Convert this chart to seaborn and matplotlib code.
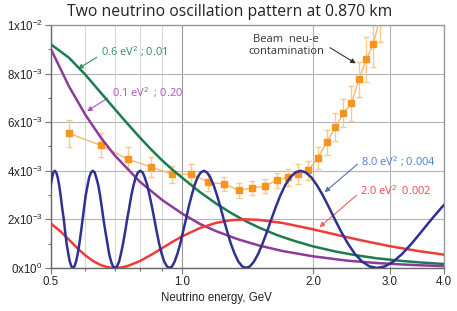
import matplotlib
matplotlib.use("Agg")
import numpy as np
import matplotlib.pyplot as plt
import seaborn as sns
from matplotlib.ticker import FixedLocator, NullFormatter

# oscillation curves (energy in GeV, probability in units of 1e-3)
blue_e = [0.495, 0.499, 0.503, 0.506, 0.510, 0.514, 0.518, 0.522, 0.526, 0.530,
          0.535, 0.539, 0.543, 0.548, 0.552, 0.557, 0.561, 0.566, 0.571, 0.576,
          0.581, 0.586, 0.591, 0.596, 0.601, 0.607, 0.612, 0.618, 0.624, 0.630,
          0.635, 0.642, 0.648, 0.654, 0.660, 0.667, 0.674, 0.680, 0.687, 0.694,
          0.702, 0.709, 0.717, 0.724, 0.732, 0.740, 0.748, 0.757, 0.765, 0.774,
          0.783, 0.792, 0.802, 0.812, 0.821, 0.832, 0.842, 0.853, 0.864, 0.875,
          0.886, 0.898, 0.910, 0.923, 0.936, 0.949, 0.962, 0.976, 0.991, 1.005,
          1.021, 1.036, 1.053, 1.069, 1.086, 1.104, 1.123, 1.142, 1.161, 1.182,
          1.203, 1.225, 1.247, 1.271, 1.295, 1.321, 1.347, 1.375, 1.403, 1.433,
          1.464, 1.497, 1.531, 1.567, 1.604, 1.643, 1.684, 1.727, 1.773, 1.821,
          1.871, 1.925, 1.981, 2.041, 2.105, 2.173, 2.245, 2.323, 2.406, 2.495,
          2.591, 2.694, 2.807, 2.929, 3.062, 3.208, 3.368, 3.545, 3.742, 3.962, 4.210]
blue_p = [3.000, 3.414, 3.732, 3.932, 4.000, 3.932, 3.732, 3.414, 3.000, 2.518,
          2.000, 1.482, 1.000, 0.586, 0.268, 0.068, 0.000, 0.068, 0.268, 0.586,
          1.000, 1.482, 2.000, 2.518, 3.000, 3.414, 3.732, 3.932, 4.000, 3.932,
          3.732, 3.414, 3.000, 2.518, 2.000, 1.482, 1.000, 0.586, 0.268, 0.068,
          0.000, 0.068, 0.268, 0.586, 1.000, 1.482, 2.000, 2.518, 3.000, 3.414,
          3.732, 3.932, 4.000, 3.932, 3.732, 3.414, 3.000, 2.518, 2.000, 1.482,
          1.000, 0.586, 0.268, 0.068, 0.000, 0.068, 0.268, 0.586, 1.000, 1.482,
          2.000, 2.518, 3.000, 3.414, 3.732, 3.932, 4.000, 3.932, 3.732, 3.414,
          3.000, 2.518, 2.000, 1.482, 1.000, 0.586, 0.268, 0.068, 0.000, 0.068,
          0.268, 0.586, 1.000, 1.482, 2.000, 2.518, 3.000, 3.414, 3.732, 3.932,
          4.000, 3.932, 3.732, 3.414, 3.000, 2.518, 2.000, 1.482, 1.000, 0.586,
          0.268, 0.068, 0.000, 0.068, 0.268, 0.586, 1.000, 1.482, 2.000, 2.518, 3.000]

red_e = [0.50, 0.525, 0.55, 0.575, 0.60, 0.625, 0.65, 0.675, 0.70, 0.725, 0.75,
         0.80, 0.85, 0.90, 0.95, 1.0, 1.1, 1.2, 1.3, 1.4, 1.5, 1.7, 2.0, 2.3,
         2.6, 3.0, 3.5, 4.0]
red_p = [1.823, 1.517, 1.162, 0.815, 0.516, 0.283, 0.122, 0.031, 0.000, 0.020, 0.081,
         0.283, 0.543, 0.814, 1.072, 1.299, 1.646, 1.861, 1.969, 2.000, 1.980, 1.854,
         1.592, 1.338, 1.125, 0.900, 0.694, 0.549]

green_e = [0.50, 0.55, 0.60, 0.65, 0.70, 0.75, 0.80, 0.85, 0.90, 0.95, 1.0,
           1.1, 1.2, 1.3, 1.4, 1.5, 1.65, 1.8, 2.0, 2.25, 2.5, 2.8, 3.2, 3.6, 4.0]
green_p = [9.20, 8.65, 7.95, 7.22, 6.55, 5.93, 5.37, 4.87, 4.43, 4.05, 3.72,
           3.12, 2.64, 2.25, 1.93, 1.67, 1.36, 1.13, 0.89, 0.68, 0.53, 0.40, 0.29, 0.216, 0.165]

purple_e = [0.50, 0.55, 0.60, 0.65, 0.70, 0.80, 0.90, 1.0, 1.1, 1.2, 1.35, 1.5,
            1.7, 2.0, 2.4, 2.8, 3.2, 3.6, 4.0]
purple_p = [9.0, 7.47, 6.30, 5.38, 4.64, 3.55, 2.80, 2.24, 1.81, 1.51, 1.17, 0.93,
            0.70, 0.48, 0.30, 0.205, 0.145, 0.105, 0.078]

# beam nu-e contamination points with error bars
beam_e = [0.55, 0.65, 0.75, 0.85, 0.95, 1.05, 1.15, 1.25, 1.35, 1.45, 1.55, 1.65,
          1.75, 1.85, 1.95, 2.05, 2.15, 2.25, 2.35, 2.45, 2.55, 2.65, 2.75, 2.85]
beam_p = [5.54, 5.05, 4.48, 4.15, 3.86, 3.86, 3.53, 3.45, 3.20, 3.29, 3.37, 3.61,
          3.74, 3.86, 4.02, 4.52, 5.17, 5.79, 6.37, 6.78, 7.76, 8.58, 9.20, 10.3]
beam_err = [0.57, 0.5, 0.5, 0.4, 0.35, 0.42, 0.35, 0.3, 0.3, 0.3, 0.3, 0.3,
            0.35, 0.4, 0.4, 0.45, 0.5, 0.58, 0.58, 0.72, 0.72, 0.92, 0.92, 1.0]

xticks = [0.5, 1.0, 2.0, 3.0, 4.0]
xtick_labels = ["0.5", "1.0", "2.0", "3.0", "4.0"]
xminor = [0.6, 0.7, 0.8, 0.9]
yticks = [0, 2e-3, 4e-3, 6e-3, 8e-3, 1e-2]
ytick_labels = ["0x10$^{0}$", "2x10$^{-3}$", "4x10$^{-3}$", "6x10$^{-3}$",
                "8x10$^{-3}$", "1x10$^{-2}$"]
yminor = [1e-3, 3e-3, 5e-3, 7e-3, 9e-3]

sns.set_theme(style="white")
plt.rcParams['font.family'] = ['Liberation Sans', 'DejaVu Sans']
plt.rcParams['mathtext.fontset'] = 'custom'
plt.rcParams['mathtext.rm'] = 'Liberation Sans'
plt.rcParams['mathtext.it'] = 'Liberation Sans:italic'
plt.rcParams['mathtext.bf'] = 'Liberation Sans:bold'

fig = plt.figure(figsize=(4.57, 3.11), dpi=100)
ax = fig.add_axes([0.1116, 0.1383, 0.860, 0.7814])
ax.set_xscale('log')

scale = 1e-3
ax.errorbar(beam_e, np.array(beam_p) * scale, yerr=np.array(beam_err) * scale,
            fmt='none', ecolor='#FCC98C', elinewidth=1, capsize=2.5, capthick=1, zorder=2)
sns.lineplot(x=beam_e, y=np.array(beam_p) * scale, ax=ax, color='#FBB66A', lw=1,
             sort=False, estimator=None, zorder=3)
ax.plot(beam_e, np.array(beam_p) * scale, ls='none', marker='s', ms=5,
        mfc='#F7931E', mec='#F7931E', zorder=4)

curves = [(green_e, green_p, '#1C7C4D'), (purple_e, purple_p, '#8D3A9C'),
          (red_e, red_p, '#EF3A3A'), (blue_e, blue_p, '#2E3192')]
for ce, cp, col in curves:
    sns.lineplot(x=ce, y=np.array(cp) * scale, ax=ax, color=col, lw=1.8,
                 sort=False, estimator=None, zorder=5)

ax.set_xlim(0.5, 4.0)
ax.set_ylim(0, 0.01)
ax.xaxis.set_major_locator(FixedLocator(xticks))
ax.xaxis.set_minor_locator(FixedLocator(xminor))
ax.xaxis.set_minor_formatter(NullFormatter())
ax.set_xticklabels(xtick_labels)
ax.set_yticks(yticks)
ax.set_yticklabels(ytick_labels)
ax.yaxis.set_minor_locator(FixedLocator(yminor))
ax.tick_params(which='both', direction='out', colors='#777777', labelcolor='#222222',
               labelsize=8.3, pad=2)
ax.tick_params(which='major', length=4, width=0.8)
ax.tick_params(which='minor', length=2.5, width=0.8)
ax.tick_params(axis='both', which='both', bottom=True, left=True)

ax.grid(which='major', axis='y', color='#b4b4b4', lw=0.8)
ax.grid(which='major', axis='x', color='#b4b4b4', lw=0.8)
ax.grid(which='minor', axis='x', color='#d8d8d8', lw=0.8)
ax.xaxis.get_gridlines()[1].set_color('#999999')
for side in ['left', 'bottom']:
    ax.spines[side].set_color('#666666')
for side in ['top', 'right']:
    ax.spines[side].set_color('#999999')
for s in ax.spines.values():
    s.set_linewidth(1)

ax.set_xlabel("Neutrino energy, GeV", fontsize=8.3, color='#222222')
ax.xaxis.set_label_coords((216 - 51) / 393, -0.10)
ax.set_ylabel("")

fig.text(0.503, 1 - 12 / 311, "Two neutrino oscillation pattern at 0.870 km",
         ha='center', va='center', fontsize=11.3, family='Open Sans', color='#222222')

ann_font = dict(fontsize=8, family='Open Sans')
ax.annotate("0.6 eV$^2$ ; 0.01", xy=(0.577, 8.2e-3), xytext=(0.652, 8.9e-3),
            color='#2F9160', va='center', ha='left', **ann_font,
            arrowprops=dict(arrowstyle='-|>', color='#2F9160', lw=0.8, relpos=(0, 0.3),
                            mutation_scale=7, shrinkA=1, shrinkB=0))
ax.annotate("0.1 eV$^2$  ; 0.20", xy=(0.605, 6.45e-3), xytext=(0.691, 7.23e-3),
            color='#B050C0', va='center', ha='left', **ann_font,
            arrowprops=dict(arrowstyle='-|>', color='#B050C0', lw=0.8, relpos=(0, 0.3),
                            mutation_scale=7, shrinkA=1, shrinkB=0))
ax.annotate("Beam  neu-e\ncontamination", xy=(2.508, 8.42e-3), xytext=(1.737, 9.16e-3),
            color='#333333', va='center', ha='center', linespacing=1.1, **ann_font,
            arrowprops=dict(arrowstyle='-|>', color='#333333', lw=0.8, relpos=(1.0, 0.55),
                            mutation_scale=7, shrinkA=2, shrinkB=0))
ax.annotate("8.0 eV$^2$ ; 0.004", xy=(2.127, 3.12e-3), xytext=(2.575, 4.39e-3),
            color='#4F7FC9', va='center', ha='left', **ann_font,
            arrowprops=dict(arrowstyle='-|>', color='#4F6FB9', lw=0.8, relpos=(0, 0.5),
                            mutation_scale=7, shrinkA=0, shrinkB=0))
ax.annotate("2.0 eV$^2$  0.002", xy=(2.07, 1.68e-3), xytext=(2.56, 3.16e-3),
            color='#F04848', va='center', ha='left', **ann_font,
            arrowprops=dict(arrowstyle='-|>', color='#F06060', lw=0.8, relpos=(0, 0.4),
                            mutation_scale=7, shrinkA=0, shrinkB=0))

fig.savefig("out.png", dpi=100)
